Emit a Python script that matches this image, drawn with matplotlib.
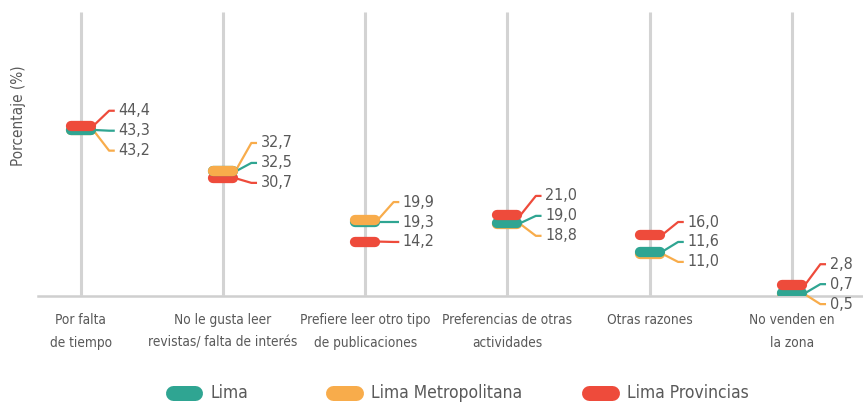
import matplotlib
matplotlib.use("Agg")
import matplotlib.pyplot as plt
from matplotlib import font_manager
from matplotlib.lines import Line2D
import numpy as np

categories = ["Por falta\nde tiempo", "No le gusta leer\nrevistas/ falta de interés",
              "Prefiere leer otro tipo\nde publicaciones", "Preferencias de otras\nactividades",
              "Otras razones", "No venden en\nla zona"]
series_names = ["Lima", "Lima Metropolitana", "Lima Provincias"]
lima = [43.3, 32.5, 19.3, 19.0, 11.6, 0.7]
lima_metro = [43.2, 32.7, 19.9, 18.8, 11.0, 0.5]
lima_prov = [44.4, 30.7, 14.2, 21.0, 16.0, 2.8]
colors = ["#2fa592", "#f8ac4b", "#ee4b3b"]

# where the stack of three labels is centred (layout, in value units)
label_centres = [43.1, 34.7, 19.3, 20.9, 14.1, 3.1]
label_step = 5.2


def pick_font():
    # a condensed face looks closest; fall back to Roboto
    for f in font_manager.fontManager.ttflist:
        nm = f.name.lower()
        if ("condensed" in nm or "narrow" in nm or str(f.stretch) in ("condensed", "semi-condensed")) \
                and f.style == "normal" and f.weight in (400, "normal", "regular"):
            return f.fname, True
    return None, False


fname, condensed = pick_font()
if fname:
    fp = font_manager.FontProperties(fname=fname)
else:
    fp = font_manager.FontProperties(family=["Roboto", "DejaVu Sans"])
scale = 1.0 if condensed else 0.94
txt_col = "#595959"

fig = plt.figure(figsize=(8.63, 4.05), dpi=100)
ax = fig.add_axes([0.044, 0.269, 0.956, 0.701])
ax.set_xlim(-0.3, 5.5)
ax.set_ylim(0, 74)
for s in ax.spines.values():
    s.set_visible(False)
ax.set_xticks([])
ax.set_yticks([])
ax.axhline(0, color="#cfcfcf", lw=1.8, zorder=1, clip_on=False)

data = np.array([lima, lima_metro, lima_prov])
for i in range(len(categories)):
    ax.plot([i, i], [0, 74], color="#d3d3d3", lw=2.2, zorder=1, solid_capstyle="butt")
    vals = data[:, i]
    order = np.argsort(vals)  # higher value drawn on top
    rank = np.argsort(-vals)  # label order top to bottom
    for z, k in enumerate(order):
        ax.plot([i - 0.07, i + 0.07], [vals[k], vals[k]], color=colors[k], lw=7.4,
                solid_capstyle="round", zorder=3 + z)
    for r, k in enumerate(rank):
        ly = label_centres[i] + label_step * (1 - r)
        ax.plot([i + 0.09, i + 0.20, i + 0.24], [vals[k], ly, ly], color=colors[k], lw=1.6,
                zorder=2, solid_capstyle="butt", clip_on=False)
        ax.text(i + 0.265, ly, f"{vals[k]:.1f}".replace(".", ","), color=txt_col,
                fontproperties=fp, fontsize=11.5 * scale, va="center", ha="left", clip_on=False)
    ax.text(i, -4.5, categories[i], color=txt_col, fontproperties=fp, fontsize=9.8 * scale,
            ha="center", va="top", linespacing=1.75)

fig.text(0.021, 0.714, "Porcentaje (%)", rotation=90, color=txt_col, fontproperties=fp,
         fontsize=11 * scale, ha="center", va="center")

# legend
leg_x = [0.2132, 0.399, 0.696]
for name, c, x in zip(series_names, colors, leg_x):
    fig.add_artist(Line2D([x - 0.0133, x + 0.0133], [0.030, 0.030], color=c, lw=10.8,
                          solid_capstyle="round", transform=fig.transFigure))
    fig.text(x + 0.031, 0.030, name, color=txt_col, fontproperties=fp, fontsize=12.5 * scale,
             va="center", ha="left")

fig.savefig("out.png", dpi=100)
